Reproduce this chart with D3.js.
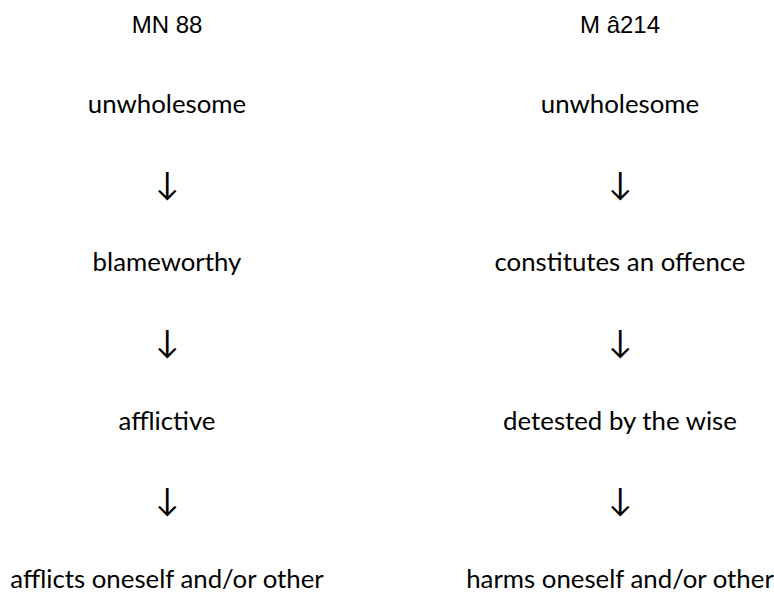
<!DOCTYPE html>
<html>
<head>
<meta charset="utf-8">
<script src="https://cdn.jsdelivr.net/npm/d3@7"></script>
<style>
  body { margin: 0; background: #fff; }
  .hd { font-family: "Liberation Sans", Arial, sans-serif; font-size: 24px; fill: #000; }
  .it { font-family: Lato, "Open Sans", sans-serif; font-size: 25.8px; fill: #000; }
  .ar { font-family: Lato, "Noto Sans", sans-serif; font-size: 32px; fill: #000; }
</style>
</head>
<body>
<div id="main"></div>
<script>
var ctx = { w: 774, h: 592 };

// column headers
var headers = ["MN 88", "M \u00e2214"];
// chain of qualities per column
var leftItems = ["unwholesome", "blameworthy", "afflictive", "afflicts oneself and/or other"];
var rightItems = ["unwholesome", "constitutes an offence", "detested by the wise", "harms oneself and/or other"];

var createViz = function(){
    var svg = d3.select("#main").append("svg")
        .attr("width", ctx.w)
        .attr("height", ctx.h);

    // rows: header + items with arrows in between
    var rowCount = 1 + leftItems.length * 2 - 1;
    ctx.yScale = d3.scaleLinear().domain([0, rowCount - 1]).range([24, 578]);
    ctx.xScale = d3.scalePoint().domain(["left", "right"]).range([167, 620]);

    var cols = [
        {key: "left", head: headers[0], items: leftItems},
        {key: "right", head: headers[1], items: rightItems}
    ];

    cols.forEach(function(c){
        var rows = [{t: c.head, cls: "hd"}];
        c.items.forEach(function(it, i){
            if (i > 0) rows.push({t: "\u2193", cls: "ar"});
            rows.push({t: it, cls: "it"});
        });
        svg.append("g").selectAll("text")
          .data(rows)
          .enter()
          .append("text")
          .attr("class", function(d){ return d.cls; })
          .attr("x", ctx.xScale(c.key))
          .attr("y", function(d, i){ return ctx.yScale(i); })
          .attr("text-anchor", "middle")
          .attr("dominant-baseline", "central")
          .text(function(d){ return d.t; });
    });
};
createViz();
</script>
</body>
</html>
